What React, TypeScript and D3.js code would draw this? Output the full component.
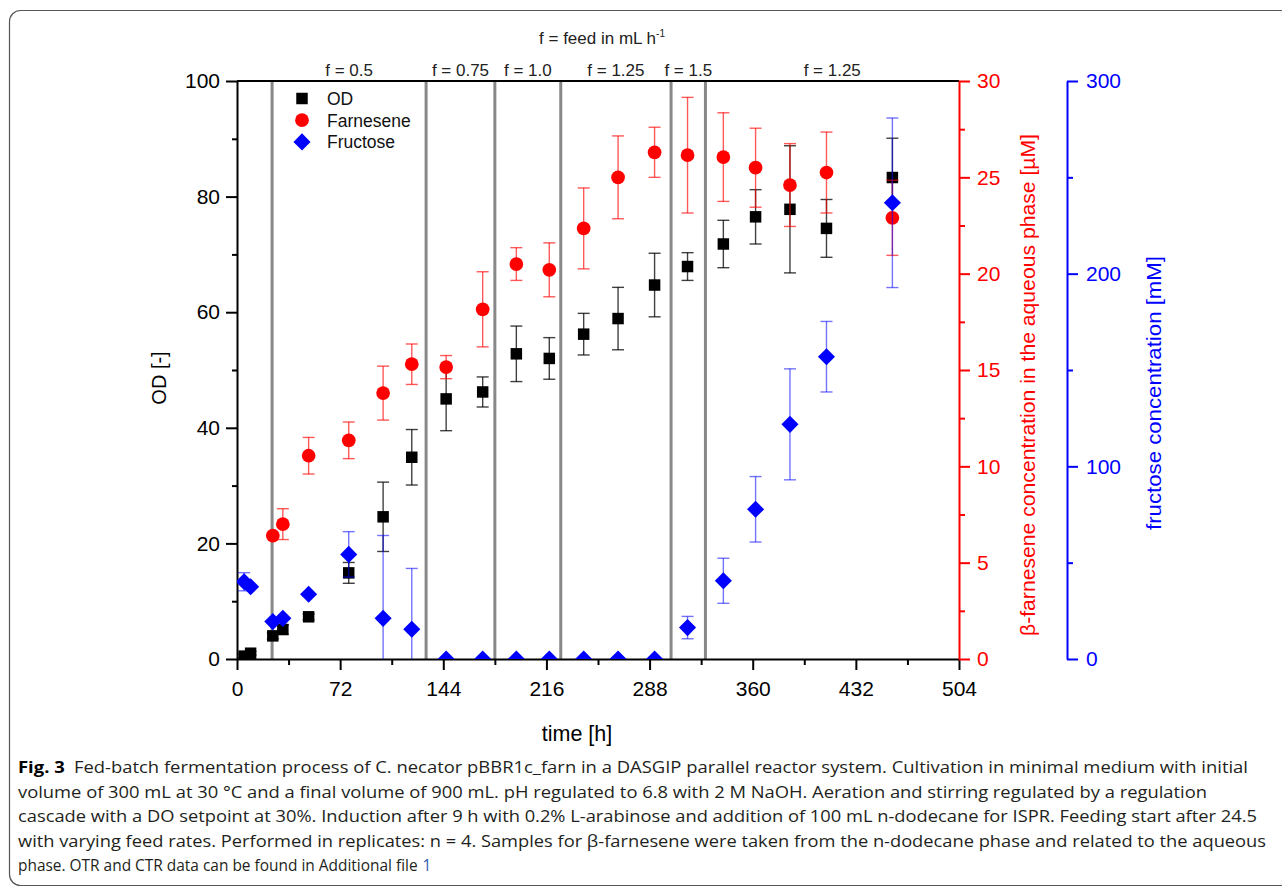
import * as d3 from 'd3';
import { useEffect, useRef } from 'react';

// sampling times [h]
const sampleTimes = [5, 9.5, 25, 32, 50, 78, 102, 122, 146, 171.5, 195, 218, 242, 266, 291.5, 314.5, 339.5, 362, 386, 411.5, 457.5];
const odValues = [0.5, 1.0, 4.0, 5.1, 7.3, 14.9, 24.6, 34.9, 45.0, 46.2, 52.8, 52.0, 56.2, 58.9, 64.7, 67.9, 71.8, 76.5, 77.8, 74.5, 83.3];
const odErrors = [0.3, 0.3, 0.5, 0.8, 0.5, 1.8, 6.0, 4.8, 5.5, 2.6, 4.8, 3.6, 3.6, 5.4, 5.5, 2.4, 4.1, 4.7, 11.0, 5.0, 6.8];

const farnTimes = [25, 32, 50, 78, 102, 122, 146, 171.5, 195, 218, 242, 266, 291.5, 314.5, 339.5, 362, 386, 411.5, 457.5];
const farnValues = [6.4, 7.0, 10.55, 11.35, 13.8, 15.3, 15.15, 18.15, 20.5, 20.2, 22.35, 25.0, 26.3, 26.15, 26.05, 25.5, 24.6, 25.25, 22.9];
const farnErrors = [0, 0.8, 0.95, 0.95, 1.4, 1.05, 0.6, 1.95, 0.85, 1.4, 2.1, 2.15, 1.3, 3.0, 2.3, 2.05, 2.15, 2.1, 1.95];

const fructoseValues = [40.1, 37.5, 19.4, 21.1, 33.6, 54.3, 21.1, 15.4, 0, 0, 0, 0, 0, 0, 0, 16.3, 40.6, 77.7, 121.8, 156.9, 236.8];
const fructoseErrors = [4.7, 0, 0, 0, 0, 11.8, 43, 31.6, 0, 0, 0, 0, 0, 0, 0, 5.8, 11.7, 17, 28.8, 18.3, 44];

const feedChanges = [24.5, 132, 180, 226, 303, 327];
const feedLabels = ['f = 0.5', 'f = 0.75', 'f = 1.0', 'f = 1.25', 'f = 1.5', 'f = 1.25'];

const timeTicks = [0, 72, 144, 216, 288, 360, 432, 504];
const timeMinor = [36, 108, 180, 252, 324, 396, 468];
const odTicks = [0, 20, 40, 60, 80, 100];
const odMinor = [10, 30, 50, 70, 90];
const farnTicks = [0, 5, 10, 15, 20, 25, 30];
const farnMinor = [2.5, 7.5, 12.5, 17.5, 22.5, 27.5];
const fructTicks = [0, 100, 200, 300];
const fructMinor = [50, 150, 250];

const captionLines = [
    ' Fed-batch fermentation process of C. necator pBBR1c_farn in a DASGIP parallel reactor system. Cultivation in minimal medium with initial',
    'volume of 300 mL at 30 °C and a final volume of 900 mL. pH regulated to 6.8 with 2 M NaOH. Aeration and stirring regulated by a regulation',
    'cascade with a DO setpoint at 30%. Induction after 9 h with 0.2% L-arabinose and addition of 100 mL n-dodecane for ISPR. Feeding start after 24.5',
    'with varying feed rates. Performed in replicates: n = 4. Samples for β-farnesene were taken from the n-dodecane phase and related to the aqueous',
];
const captionEnds = [1248, 1207, 1257, 1266];
const captionLast = 'phase. OTR and CTR data can be found in Additional file';

const FONT = "'Liberation Sans', Arial, sans-serif";
const CAP_FONT = "'Open Sans', 'Noto Sans', sans-serif";

export default function App() {
    const ref = useRef<SVGSVGElement>(null);
    const W = 1282,
        H = 892;
    const plot = { left: 237, right: 959, top: 81, bottom: 659 };

    useEffect(() => {
        const svg = d3.select(ref.current);
        svg.selectAll('*').remove();

        svg.append('rect').attr('width', W).attr('height', H).attr('fill', '#fff');
        // figure frame
        svg.append('rect')
            .attr('x', 9.5)
            .attr('y', 10.5)
            .attr('width', 1320)
            .attr('height', 875)
            .attr('rx', 11)
            .attr('fill', 'none')
            .attr('stroke', '#555')
            .attr('stroke-width', 1.2);

        const x = d3.scaleLinear().domain([0, 504]).range([plot.left, plot.right]);
        const yOD = d3.scaleLinear().domain([0, 100]).range([plot.bottom, plot.top]);
        const yF = d3.scaleLinear().domain([0, 30]).range([plot.bottom, plot.top]);
        const yFr = d3.scaleLinear().domain([0, 300]).range([plot.bottom, plot.top]);

        const styleAxis = (g: any, color: string) => {
            g.attr('font-family', FONT).attr('font-size', 21);
            g.select('.domain').attr('stroke', color).attr('stroke-width', 2);
            g.selectAll('.tick line').attr('stroke', color).attr('stroke-width', 2);
            g.selectAll('.tick text').attr('fill', color);
        };
        const minor = (g: any, color: string) => {
            g.select('.domain').remove();
            g.selectAll('.tick line').attr('stroke', color).attr('stroke-width', 2);
        };

        // feed change lines
        svg.append('g')
            .selectAll('line')
            .data(feedChanges)
            .join('line')
            .attr('x1', (d) => x(d))
            .attr('x2', (d) => x(d))
            .attr('y1', plot.top)
            .attr('y2', plot.bottom)
            .attr('stroke', '#888')
            .attr('stroke-width', 3);

        // top border
        svg.append('line')
            .attr('x1', plot.left)
            .attr('x2', plot.right)
            .attr('y1', plot.top)
            .attr('y2', plot.top)
            .attr('stroke', '#000')
            .attr('stroke-width', 2);

        // axes
        const gx = svg.append('g').attr('transform', `translate(0,${plot.bottom})`);
        gx.call(d3.axisBottom(x).tickValues(timeTicks).tickSize(11).tickSizeOuter(0).tickPadding(11));
        styleAxis(gx, '#000');
        const gxm = svg.append('g').attr('transform', `translate(0,${plot.bottom})`);
        gxm.call(d3.axisBottom(x).tickValues(timeMinor).tickSize(6).tickFormat(() => ''));
        minor(gxm, '#000');

        const gy = svg.append('g').attr('transform', `translate(${plot.left},0)`);
        gy.call(d3.axisLeft(yOD).tickValues(odTicks).tickSize(11).tickSizeOuter(0).tickPadding(6));
        styleAxis(gy, '#000');
        const gym = svg.append('g').attr('transform', `translate(${plot.left},0)`);
        gym.call(d3.axisLeft(yOD).tickValues(odMinor).tickSize(5).tickFormat(() => ''));
        minor(gym, '#000');

        const gr = svg.append('g').attr('transform', `translate(${plot.right},0)`);
        gr.call(d3.axisRight(yF).tickValues(farnTicks).tickSize(11).tickSizeOuter(0).tickPadding(7));
        styleAxis(gr, '#f00');
        const grm = svg.append('g').attr('transform', `translate(${plot.right},0)`);
        grm.call(d3.axisRight(yF).tickValues(farnMinor).tickSize(6).tickFormat(() => ''));
        minor(grm, '#f00');

        const blueX = 1067;
        const gb = svg.append('g').attr('transform', `translate(${blueX},0)`);
        gb.call(d3.axisRight(yFr).tickValues(fructTicks).tickSize(11).tickSizeOuter(0).tickPadding(8));
        styleAxis(gb, '#00f');
        const gbm = svg.append('g').attr('transform', `translate(${blueX},0)`);
        gbm.call(d3.axisRight(yFr).tickValues(fructMinor).tickSize(6).tickFormat(() => ''));
        minor(gbm, '#00f');

        // axis titles
        svg.append('text')
            .attr('transform', 'translate(166,378) rotate(-90)')
            .attr('text-anchor', 'middle')
            .attr('font-family', FONT)
            .attr('font-size', 20)
            .text('OD [-]');
        svg.append('text')
            .attr('x', 577)
            .attr('y', 741)
            .attr('text-anchor', 'middle')
            .attr('font-family', FONT)
            .attr('font-size', 21.5)
            .text('time [h]');
        svg.append('text')
            .attr('transform', 'translate(1035,385) rotate(-90)')
            .attr('text-anchor', 'middle')
            .attr('font-family', FONT)
            .attr('font-size', 21)
            .attr('fill', '#f00')
            .attr('textLength', 502)
            .attr('lengthAdjust', 'spacingAndGlyphs')
            .text('β-farnesene concentration in the aqueous phase [µM]');
        svg.append('text')
            .attr('transform', 'translate(1161,393) rotate(-90)')
            .attr('text-anchor', 'middle')
            .attr('font-family', FONT)
            .attr('font-size', 21)
            .attr('fill', '#00f')
            .attr('textLength', 274)
            .attr('lengthAdjust', 'spacingAndGlyphs')
            .text('fructose concentration [mM]');

        // feed labels
        const bounds = [...feedChanges, 504];
        svg.append('g')
            .selectAll('text')
            .data(feedLabels)
            .join('text')
            .attr('x', (_, i) => x((bounds[i] + bounds[i + 1]) / 2))
            .attr('y', 76)
            .attr('text-anchor', 'middle')
            .attr('font-family', FONT)
            .attr('font-size', 17)
            .attr('fill', '#222')
            .text((d) => d);
        const title = svg.append('text')
            .attr('x', 602)
            .attr('y', 44)
            .attr('text-anchor', 'middle')
            .attr('font-family', FONT)
            .attr('font-size', 17)
            .attr('fill', '#222');
        title.append('tspan').text('f = feed in mL h');
        title.append('tspan').attr('font-size', 10).attr('dy', -7).text('-1');

        // data
        svg.append('clipPath')
            .attr('id', 'plotclip')
            .append('rect')
            .attr('x', plot.left)
            .attr('y', plot.top)
            .attr('width', plot.right - plot.left)
            .attr('height', plot.bottom - plot.top);
        const data = svg.append('g').attr('clip-path', 'url(#plotclip)');

        const errorBars = (
            ts: number[],
            vs: number[],
            es: number[],
            y: d3.ScaleLinear<number, number>,
            color: string,
            opacity: number,
        ) => {
            const g = data.append('g').attr('stroke', color).attr('stroke-opacity', opacity).attr('stroke-width', 1.4);
            ts.forEach((t, i) => {
                if (!es[i]) return;
                const cx = x(t);
                const y1 = y(vs[i] - es[i]);
                const y2 = y(vs[i] + es[i]);
                g.append('line').attr('x1', cx).attr('x2', cx).attr('y1', y1).attr('y2', y2);
                g.append('line').attr('x1', cx - 6).attr('x2', cx + 6).attr('y1', y1).attr('y2', y1);
                g.append('line').attr('x1', cx - 6).attr('x2', cx + 6).attr('y1', y2).attr('y2', y2);
            });
        };

        const square = d3.symbol().type(d3.symbolSquare).size(132);
        const circle = d3.symbol().type(d3.symbolCircle).size(148);
        const diamond = d3.symbol().type(d3.symbolSquare).size(146);

        errorBars(sampleTimes, odValues, odErrors, yOD, '#000', 0.75);
        data.append('g')
            .selectAll('path')
            .data(sampleTimes)
            .join('path')
            .attr('d', square()!)
            .attr('transform', (d, i) => `translate(${x(d)},${yOD(odValues[i])})`)
            .attr('fill', '#000');

        errorBars(farnTimes, farnValues, farnErrors, yF, '#f00', 0.65);
        data.append('g')
            .selectAll('path')
            .data(farnTimes)
            .join('path')
            .attr('d', circle()!)
            .attr('transform', (d, i) => `translate(${x(d)},${yF(farnValues[i])})`)
            .attr('fill', '#f00');

        errorBars(sampleTimes, fructoseValues, fructoseErrors, yFr, '#00f', 0.55);
        data.append('g')
            .selectAll('path')
            .data(sampleTimes)
            .join('path')
            .attr('d', diamond()!)
            .attr('transform', (d, i) => `translate(${x(d)},${yFr(fructoseValues[i])}) rotate(45)`)
            .attr('fill', '#00f');

        // legend
        const legend = svg.append('g').attr('font-family', FONT).attr('font-size', 17.5);
        const items = [
            { label: 'OD', sym: square()!, color: '#000', rot: 0 },
            { label: 'Farnesene', sym: circle()!, color: '#f00', rot: 0 },
            { label: 'Fructose', sym: diamond()!, color: '#00f', rot: 45 },
        ];
        items.forEach((it, i) => {
            const ly = 98.5 + i * 21.7;
            legend.append('path')
                .attr('d', it.sym)
                .attr('transform', `translate(302,${ly}) rotate(${it.rot})`)
                .attr('fill', it.color);
            legend.append('text').attr('x', 327).attr('y', ly).attr('dy', '0.36em').attr('fill', '#111').text(it.label);
        });

        // caption
        const cap = svg.append('g').attr('font-family', CAP_FONT).attr('font-size', 16.5).attr('fill', '#231f20');
        captionLines.forEach((line, i) => {
            const t = cap.append('text')
                .attr('x', 18)
                .attr('y', 773 + i * 24.5)
                .attr('textLength', captionEnds[i] - 18)
                .attr('lengthAdjust', 'spacingAndGlyphs');
            if (i === 0) {
                t.append('tspan').attr('font-weight', 'bold').attr('fill', '#000').text('Fig. 3');
                t.append('tspan').attr('dx', 4).text(line);
            } else {
                t.text(line);
            }
        });
        // last line, squeezed like the lines above, with the link number
        const last = cap.append('g');
        const lastText = last.append('text').attr('x', 0).attr('y', 0).text(captionLast);
        const w = (lastText.node() as SVGTextElement).getComputedTextLength();
        last.append('text')
            .attr('x', w + 5)
            .attr('y', 0)
            .attr('fill', '#2a5db0')
            .text('1');
        const k = Math.min(1, (431 - 18) / (w + 5 + 9));
        last.attr('transform', `translate(18,${773 + 4 * 24.5}) scale(${k},1)`);
    }, []);

    return <svg ref={ref} width={W} height={H} style={{ position: 'absolute', left: 0, top: 0 }} />;
}
